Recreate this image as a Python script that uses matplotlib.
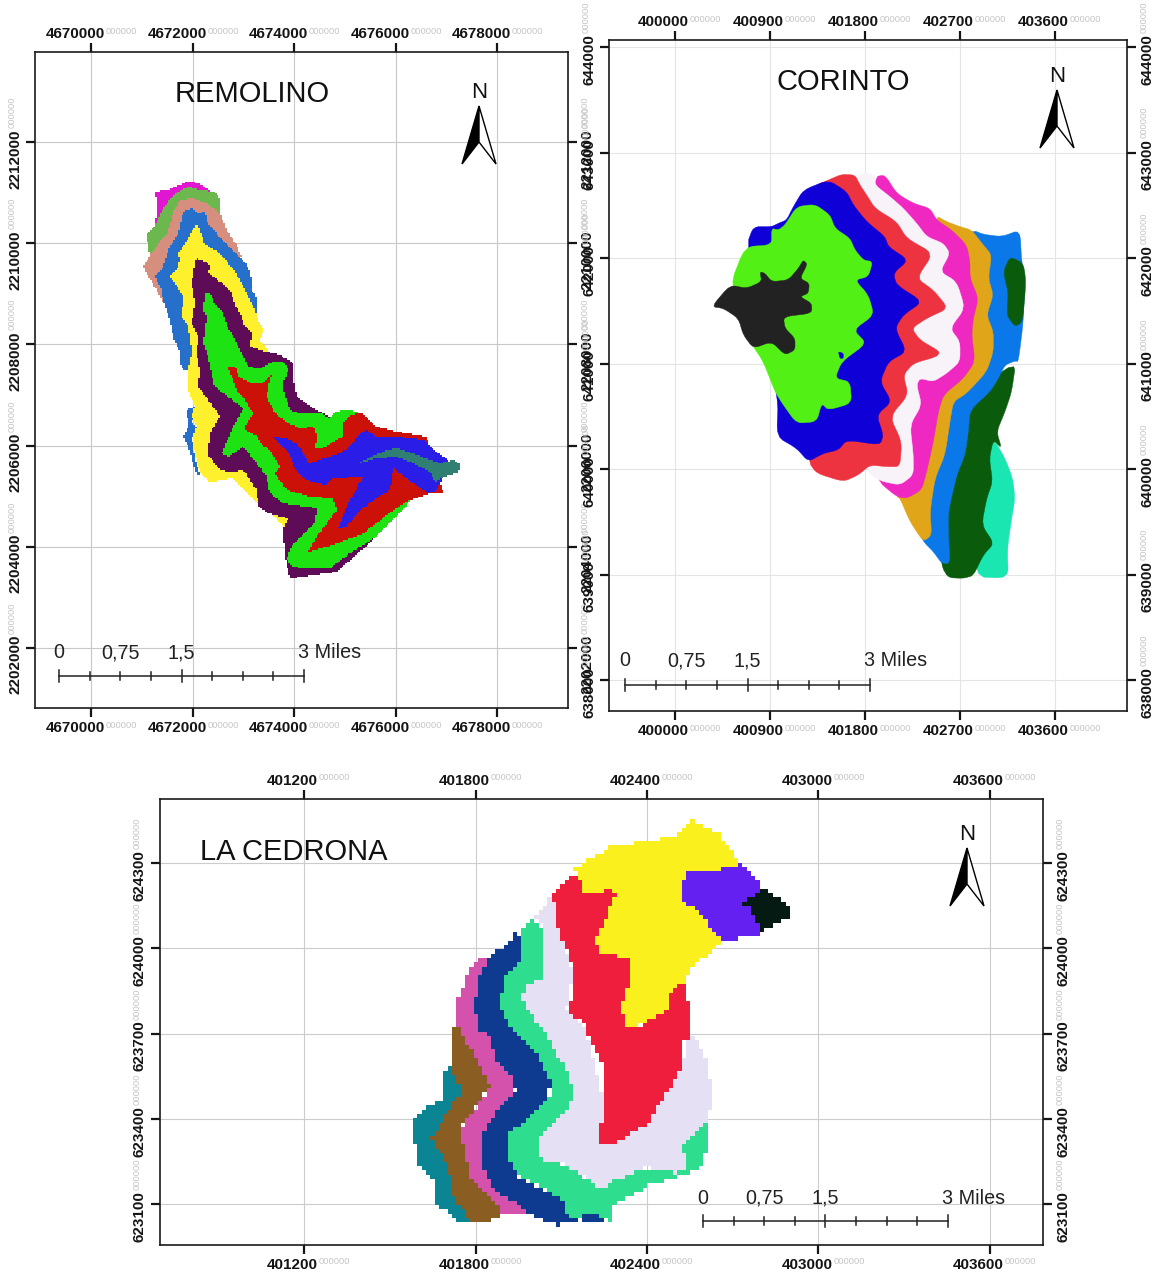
import matplotlib
matplotlib.use("Agg")
import matplotlib.pyplot as plt
import numpy as np
from matplotlib.colors import ListedColormap
from matplotlib.patches import Polygon
from matplotlib.path import Path

plt.rcParams["font.family"] = ["Liberation Sans", "DejaVu Sans"]

# ------------------------------
# Figure size (pixels)
# ------------------------------
W, H = 1159, 1276

# ------------------------------
# Tick values of the three maps
# ------------------------------
rem_x_ticks = [4670000, 4672000, 4674000, 4676000, 4678000]
rem_y_ticks = [2202000, 2204000, 2206000, 2208000, 2210000, 2212000]
cor_x_ticks = [400000, 400900, 401800, 402700, 403600]
cor_y_ticks = [638000, 639000, 640000, 641000, 642000, 643000, 644000]
ced_x_ticks = [401200, 401800, 402400, 403000, 403600]
ced_y_ticks = [623100, 623400, 623700, 624000, 624300]
scale_labels = ["0", "0,75", "1,5", "3 Miles"]
scale_fracs = [0, 0.25, 0.5, 1]

# ------------------------------
# Zone outlines (x, y, 3x sheet coordinates)
# ------------------------------
rem_magenta = [(105,65),(150,58),(205,32),(240,42),(275,65),(240,100),(150,110),(105,165),(112,110)]
rem_olive = [(80,195),(105,165),(130,115),(165,70),(205,50),(240,60),(285,65),(300,90),(300,135),(250,150),(150,180),(105,250),(90,255),(85,230)]
rem_salmon = [(70,290),(90,255),(120,215),(145,185),(160,125),(180,90),(220,85),(260,100),(300,130),(320,180),(350,225),(365,262),(300,240),(200,200),(150,330),(130,400),(110,360),(85,320)]
rem_blue = [(105,320),(130,290),(145,240),(175,190),(190,125),(215,115),(235,130),(255,125),(265,165),(290,190),(310,215),(345,250),(375,275),(392,310),(395,360),(412,385),(410,440),(350,400),(250,300),(220,545),(205,600),(190,600),(180,580),(178,540),(160,505),(150,450),(130,395),(125,360)]
rem_blue_low = [(200,720),(230,710),(215,760),(240,780),(215,800),(225,870),(240,915),(230,915),(205,830),(190,800),(205,770)]
rem_yellow = [(150,320),(175,290),(180,265),(175,250),(205,205),(230,160),(250,205),(250,220),(300,250),(325,280),(345,305),(365,340),(385,380),(400,410),(415,450),(430,480),(420,510),(445,545),(505,1045),(500,1075),(440,1020),(410,1000),(380,965),(340,925),(300,930),(270,938),(245,915),(225,860),(218,800),(230,770),(215,740),(225,710),(205,660),(205,600),(215,545),(205,470),(185,440),(190,380),(165,340)]
rem_purple = [(215,340),(228,265),(260,275),(270,290),(265,310),(300,335),(315,350),(335,370),(345,405),(360,430),(375,470),(395,490),(390,530),(440,545),(480,555),(520,580),(520,630),(530,680),(580,715),(630,740),(760,1110),(650,1205),(510,1225),(495,1160),(490,1075),(505,1045),(445,1030),(415,1010),(410,960),(370,900),(335,905),(300,900),(265,855),(270,790),(300,740),(265,690),(235,650),(240,600),(230,550),(235,500),(215,460),(225,400)]
rem_green = [(255,370),(270,370),(285,405),(310,430),(320,465),(345,510),(360,540),(385,590),(420,597),(450,578),(490,575),(505,600),(488,640),(495,680),(515,725),(545,730),(600,728),(630,745),(650,725),(685,718),(720,730),(870,990),(850,1020),(760,1105),(690,1150),(630,1195),(560,1195),(515,1190),(500,1165),(515,1130),(545,1100),(585,1060),(590,1015),(490,1000),(450,970),(440,920),(410,880),(370,830),(325,860),(305,850),(340,770),(370,715),(310,670),(280,640),(265,560),(250,520),(260,440),(250,420)]
rem_red = [(325,590),(345,590),(355,620),(395,640),(430,640),(455,612),(445,650),(440,680),(465,730),(505,760),(540,775),(580,770),(590,800),(585,835),(605,835),(670,800),(670,760),(690,735),(725,730),(770,770),(830,785),(920,800),(970,970),(930,970),(860,995),(800,1035),(730,1090),(640,1125),(565,1145),(590,1100),(650,1020),(640,985),(570,980),(500,960),(465,910),(480,890),(450,840),(420,820),(415,800),(375,780),(375,770),(400,730),(375,690),(350,660),(335,620)]
rem_indigo = [(460,800),(500,805),(525,820),(545,840),(565,880),(600,870),(660,850),(690,830),(720,790),(740,780),(770,800),(830,800),(910,810),(940,840),(985,870),(965,930),(950,960),(925,970),(895,950),(860,925),(820,895),(810,960),(770,985),(720,1020),(680,1070),(655,1075),(680,1010),(730,920),(640,925),(615,945),(560,930),(525,900),(510,850)]
rem_teal = [(715,880),(745,865),(800,840),(830,835),(880,850),(930,870),(960,880),(1000,870),(1022,885),(1015,910),(985,915),(945,935),(930,905),(880,880),(830,860),(770,865)]

cor_mint = [(880,820),(915,880),(938,940),(945,1000),(935,1060),(922,1150),(925,1240),(820,1235),(820,900)]
cor_forest = [(948,588),(935,680),(915,740),(890,800),(905,850),(880,825),(868,880),(878,950),(860,1000),(845,1080),(882,1135),(850,1170),(820,1232),(790,1240),(745,1238),(725,1205),(700,1000),(800,700)]
cor_blue = [(818,195),(850,208),(905,215),(960,195),(965,290),(975,330),(970,470),(955,590),(945,588),(915,600),(895,640),(870,680),(810,735),(805,800),(795,870),(770,930),(745,1040),(745,1100),(750,1195),(725,1195),(700,1160),(670,1130),(600,1000),(600,300)]
cor_forest_up = [(930,275),(970,295),(978,350),(968,470),(945,485),(920,450),(925,385),(910,320)]
cor_orange = [(705,150),(740,170),(780,185),(815,195),(850,240),(875,270),(865,340),(880,390),(860,450),(880,500),(880,560),(860,620),(800,685),(760,710),(750,770),(735,870),(705,940),(690,1040),(695,1110),(670,1130),(630,1070),(600,1000),(590,995),(600,600)]
cor_magenta = [(525,35),(555,30),(590,85),(640,115),(690,130),(710,165),(755,195),(800,240),(810,290),(810,340),(835,400),(820,460),(815,510),(825,590),(790,640),(730,690),(715,740),(700,830),(680,920),(665,975),(620,1000),(590,995),(530,945),(500,700),(500,300)]
cor_white = [(470,30),(500,25),(525,30),(525,60),(570,95),(610,130),(650,175),(680,215),(730,235),(750,265),(720,320),(770,350),(795,430),(750,490),(780,530),(780,590),(740,625),(700,650),(660,640),(650,660),(665,720),(630,780),(640,870),(640,930),(600,960),(550,950),(530,940),(500,920),(480,500),(470,100)]
cor_red = [(385,45),(425,28),(465,30),(480,60),(500,90),(525,130),(590,170),(620,220),(700,265),(650,340),(700,375),(745,430),(680,460),(635,490),(660,525),(720,560),(710,575),(640,595),(610,630),(625,690),(570,755),(605,830),(600,905),(560,905),(510,900),(475,930),(430,950),(350,925),(325,890),(300,500),(350,60)]
cor_navy = [(160,185),(215,185),(235,175),(260,165),(280,125),(310,75),(385,45),(440,80),(460,120),(500,170),(555,215),(565,245),(625,285),(580,325),(590,360),(668,410),(610,450),(585,490),(620,560),(565,590),(540,650),(575,710),(530,750),(550,810),(540,840),(440,825),(415,855),(370,865),(325,890),(290,850),(230,815),(235,700),(140,240)]
cor_lime = [(135,245),(215,240),(215,190),(235,195),(255,180),(290,125),(345,118),(390,150),(405,190),(450,220),(465,255),(490,285),(518,290),(505,335),(465,345),(505,390),(522,450),(460,495),(500,535),(425,590),(405,640),(450,650),(455,715),(385,735),(365,715),(350,770),(290,775),(250,720),(225,680),(190,590),(150,530),(90,360)]
cor_speck = [(415,560),(430,565),(430,580),(420,580)]
cor_black = [(35,425),(90,360),(140,370),(185,350),(180,320),(195,325),(215,350),(265,345),(295,310),(310,285),(322,298),(300,340),(328,355),(325,385),(300,395),(335,415),(335,445),(250,455),(255,490),(285,520),(285,555),(255,570),(215,530),(160,550),(130,510),(115,460),(70,430)]

ced_teal = [(140,750),(160,770),(190,810),(180,870),(120,1000),(210,1220),(170,1220),(105,1160),(100,1090),(50,1040),(40,920),(60,890),(125,855),(125,805)]
ced_brown = [(170,625),(190,650),(205,690),(270,810),(240,860),(180,940),(210,1080),(250,1130),(315,1195),(260,1220),(210,1220),(160,1140),(145,1050),(95,970),(130,910),(185,830),(150,745),(150,690),(160,640)]
ced_pink = [(240,430),(290,420),(300,600),(345,820),(300,900),(260,950),(280,1100),(390,1195),(315,1200),(250,1130),(210,1080),(180,945),(240,860),(272,810),(205,690),(170,620),(170,560),(200,490),(220,450)]
ced_navy = [(345,355),(360,370),(370,425),(320,480),(295,570),(330,630),(400,700),(455,800),(440,850),(380,920),(320,965),(330,1040),(360,1090),(440,1130),(495,1160),(540,1220),(470,1230),(395,1200),(350,1165),(290,1130),(250,1060),(245,960),(290,890),(345,825),(330,780),(290,740),(270,660),(240,650),(225,590),(230,510),(255,450),(285,410),(325,390)]
ced_navy_low = [(540,1205),(585,1190),(610,1220),(635,1228),(540,1228)]
ced_mint = [(395,305),(430,340),(435,490),(385,510),(365,550),(400,610),(440,660),(500,770),(525,830),(500,890),(420,960),(415,1030),(490,1050),(560,1090),(600,1125),(640,1100),(700,1055),(830,1075),(855,1060),(850,990),(920,920),(925,990),(900,1060),(855,1080),(750,1110),(640,1170),(630,1220),(580,1190),(520,1215),(500,1190),(495,1160),(440,1125),(360,1085),(320,1030),(320,960),(390,910),(450,850),(455,800),(400,700),(330,630),(295,570),(320,480),(370,425),(360,350)]
ced_lavender = [(460,240),(470,320),(490,390),(520,480),(500,580),(560,650),(620,900),(600,985),(640,985),(740,930),(790,850),(850,750),(855,680),(880,665),(925,740),(935,850),(925,920),(850,990),(855,1060),(830,1075),(735,1055),(640,1100),(600,1125),(560,1090),(490,1045),(415,1030),(420,960),(500,890),(525,830),(500,770),(440,660),(400,610),(365,550),(385,510),(435,490),(435,340),(400,305)]
ced_red = [(525,175),(540,190),(545,235),(640,225),(645,245),(590,380),(600,410),(690,435),(690,490),(665,580),(680,630),(705,640),(810,580),(810,530),(860,495),(870,650),(880,660),(850,680),(850,750),(790,850),(740,930),(640,985),(605,985),(595,945),(615,900),(610,750),(575,680),(550,620),(500,590),(520,540),(525,500),(510,420),(490,390),(470,320),(458,240)]
ced_yellow = [(525,160),(600,115),(640,85),(680,88),(820,65),(875,15),(950,50),(1020,140),(1000,165),(1030,200),(1000,300),(960,385),(870,465),(860,495),(810,530),(810,580),(700,640),(680,630),(665,580),(690,490),(690,435),(600,410),(585,380),(645,245),(640,225),(545,235),(540,190)]
ced_violet = [(865,170),(1000,160),(1025,145),(1060,180),(1085,215),(1110,300),(1075,365),(970,375),(890,290),(845,250),(840,220)]
ced_black = [(1090,218),(1120,240),(1160,260),(1170,310),(1120,330),(1080,355),(1065,300),(1050,280),(1025,265),(1060,245)]

# paint order, outer zones first
rem_zones = [(rem_magenta, "#e016d0"), (rem_olive, "#6cb84f"), (rem_salmon, "#d68f7f"),
             (rem_blue, "#2670cc"), (rem_blue_low, "#2670cc"), (rem_yellow, "#fff02e"),
             (rem_purple, "#5e0b58"), (rem_green, "#1ee313"), (rem_red, "#cc1208"),
             (rem_indigo, "#2b1de8"), (rem_teal, "#2f7f72")]
cor_zones = [(cor_mint, "#19e6b0"), (cor_forest, "#0a5c0c"), (cor_blue, "#0a78e8"),
             (cor_forest_up, "#0a5c0c"), (cor_orange, "#e0a518"), (cor_magenta, "#ee28c0"),
             (cor_white, "#f7f3f9"), (cor_red, "#ee3340"), (cor_navy, "#1000d8"),
             (cor_lime, "#52f014"), (cor_speck, "#1000d8"), (cor_black, "#222222")]
ced_zones = [(ced_teal, "#0b8494"), (ced_brown, "#8a5e22"), (ced_pink, "#d452ac"),
             (ced_navy, "#0e3a90"), (ced_navy_low, "#0e3a90"), (ced_mint, "#2fdd8e"),
             (ced_lavender, "#e6e0f4"), (ced_red, "#ee1e3c"), (ced_yellow, "#faf01e"),
             (ced_violet, "#6420f0"), (ced_black, "#041a12")]

# ------------------------------
# Helpers
# ------------------------------
def fit(px_a, val_a, px_b, val_b):
    """Linear px -> map unit function from two ticks."""
    k = (val_b - val_a) / (px_b - px_a)
    return lambda p: val_a + (np.asarray(p, dtype=float) - px_a) * k

def rounded(pts, rounds=2, cut=0.18):
    """Light corner cutting so the digitized outline looks like a contour."""
    arr = np.array(pts, dtype=float)
    for _ in range(rounds):
        nxt = np.roll(arr, -1, axis=0)
        arr = np.column_stack([(1 - cut) * arr + cut * nxt, cut * arr + (1 - cut) * nxt]).reshape(-1, 2)
    return arr

def draw_raster(ax, zones, cell, fx, fy, ox, oy):
    """Classify a coarse grid by zone, the way the source raster looks."""
    xs = np.arange(0, 1200 + cell, cell)
    ys = np.arange(0, 1260 + cell, cell)
    cx, cy = np.meshgrid(xs[:-1] + cell / 2, ys[:-1] + cell / 2)
    centers = np.column_stack([cx.ravel(), cy.ravel()])
    grid = np.full(cx.shape, -1)
    for i, (pts, _) in enumerate(zones):
        grid[Path(pts).contains_points(centers).reshape(cx.shape)] = i
    cmap = ListedColormap([c for _, c in zones])
    ax.pcolormesh(fx(ox + xs / 3), fy(oy + ys / 3), np.ma.masked_less(grid, 0), cmap=cmap,
                  vmin=-0.5, vmax=len(zones) - 0.5, zorder=2)

def tick_text(ax, val, axis, side):
    bold = dict(fontsize=11, fontweight="bold", color="#151515", annotation_clip=False)
    grey = dict(fontsize=6.7, color="#c6c6c6", annotation_clip=False)
    if axis == "x":
        ypos, dy = (1, 18) if side == "top" else (0, -20)
        kw = dict(xy=(val, ypos), xycoords=("data", "axes fraction"), textcoords="offset pixels")
        ax.annotate(str(val), xytext=(14, dy), ha="right", va="center", **kw, **bold)
        ax.annotate("000000", xytext=(15, dy + 3), ha="left", va="center", **kw, **grey)
    else:
        xpos, dx = (0, -20) if side == "left" else (1, 20)
        kw = dict(xy=(xpos, val), xycoords=("axes fraction", "data"), textcoords="offset pixels",
                  rotation=90)
        ax.annotate(str(val), xytext=(dx, 13), ha="center", va="top", **kw, **bold)
        ax.annotate("000000", xytext=(dx - 3, 14), ha="center", va="bottom", **kw, **grey)

def make_map(box, xcal, ycal, xticks, yticks, sheet, zones, cell, title, title_px, north_x,
             north_y, bar_px, grid_color):
    left, top, right, bottom = box
    ax = fig.add_axes([left / W, 1 - bottom / H, (right - left) / W, (bottom - top) / H])
    fx, fy = fit(*xcal), fit(*ycal)
    ax.set_xlim(fx(left), fx(right))
    ax.set_ylim(fy(bottom), fy(top))
    ax.set_xticks(xticks)
    ax.set_yticks(yticks)
    ax.set_xticklabels([])
    ax.set_yticklabels([])
    ax.tick_params(top=True, bottom=True, left=True, right=True, length=6.5, width=1.6, color="#151515")
    ax.grid(True, color=grid_color, linewidth=0.8)
    ax.set_axisbelow(True)
    for sp in ax.spines.values():
        sp.set_linewidth(1.2)
        sp.set_color("#1a1a1a")
    for v in xticks:
        tick_text(ax, v, "x", "top")
        tick_text(ax, v, "x", "bottom")
    for v in yticks:
        tick_text(ax, v, "y", "left")
        tick_text(ax, v, "y", "right")

    # zones
    ox, oy = sheet
    if cell:
        draw_raster(ax, zones, cell, fx, fy, ox, oy)
    else:
        for pts, color in zones:
            arr = rounded(pts)
            xy = np.column_stack([fx(ox + arr[:, 0] / 3), fy(oy + arr[:, 1] / 3)])
            ax.add_patch(Polygon(xy, closed=True, facecolor=color, edgecolor=color, linewidth=0.3))

    # title
    ax.text(fx(title_px[0]), fy(title_px[1] + 2), title, fontsize=21, ha="left", va="center", color="#111111")

    # north arrow
    ax.text(fx(north_x), fy(north_y), "N", fontsize=16, ha="center", va="center", color="#111111")
    tip, base, notch = north_y + 14, north_y + 72, north_y + 50
    ax.add_patch(Polygon(np.column_stack([fx([north_x, north_x - 17, north_x]), fy([tip, base, notch])]),
                         facecolor="black", edgecolor="black", linewidth=1, zorder=3))
    ax.add_patch(Polygon(np.column_stack([fx([north_x, north_x + 17, north_x]), fy([tip, base, notch])]),
                         facecolor="white", edgecolor="black", linewidth=1, zorder=3))

    # scale bar
    bx, by, lab_y = bar_px
    blen = 245
    ax.plot(fx([bx, bx + blen]), fy([by, by]), color="#222222", lw=1.1, zorder=3)
    for i in range(9):
        half = 6 if i % 4 == 0 else 4
        px = bx + blen * i / 8
        ax.plot(fx([px, px]), fy([by - half, by + half]), color="#222222", lw=1.1, zorder=3)
    for lab, frac in zip(scale_labels, scale_fracs):
        px = bx + blen * frac
        if lab == "3 Miles":
            ax.text(fx(px - 6), fy(lab_y + 1), lab, fontsize=14.2, ha="left", va="center", color="#222222", zorder=4)
        else:
            ax.text(fx(px), fy(lab_y + 1), lab, fontsize=14.2, ha="center", va="center", color="#222222", zorder=4)
    return ax

# ------------------------------
# Draw
# ------------------------------
fig = plt.figure(figsize=(W / 100, H / 100), dpi=100)

make_map((35, 52, 568, 708), (91, 4670000, 497, 4678000), (142, 2212000, 648, 2202000),
         rem_x_ticks, rem_y_ticks, (120, 170), rem_zones, 5, "REMOLINO", (175, 92), 479, 92,
         (59, 676, 652), "#c8c8c8")
make_map((609, 40, 1127, 711), (675, 400000, 1055, 403600), (47, 644000, 680, 638000),
         cor_x_ticks, cor_y_ticks, (700, 165), cor_zones, 0, "CORINTO", (776, 80), 1057, 76,
         (625, 685, 660), "#e4e4e4")
make_map((160, 799, 1043, 1245), (304, 401200, 990, 403600), (863, 624300, 1204, 623100),
         ced_x_ticks, ced_y_ticks, (400, 815), ced_zones, 13, "LA CEDRONA", (200, 850), 967, 834,
         (703, 1221, 1197), "#cccccc")

fig.savefig("out.png", dpi=100)
